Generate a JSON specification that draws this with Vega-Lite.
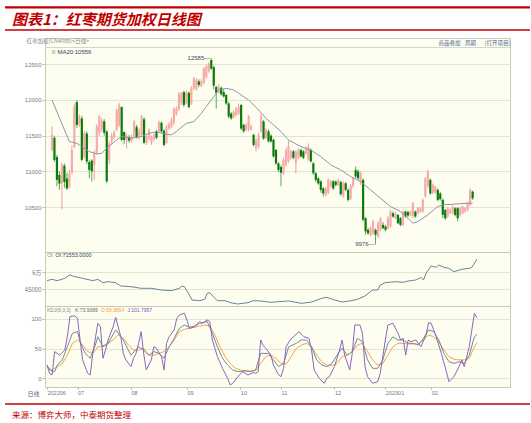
{
"$schema": "https://vega.github.io/schema/vega-lite/v6.json",
"background": "white",
"padding": {"left": 3, "top": 6, "right": 3, "bottom": 0},
"spacing": 0,
"bounds": "flush",
"config": {"font": "Liberation Sans", "view": {"stroke": "#c8c8b8", "fill": "#fefef0"}},
"datasets": {
"candles": [
{"i":0,"o":11300,"h":11627,"l":11280,"c":11510},{"i":1,"o":11470,"h":11500,"l":11130,"c":11160},{"i":2,"o":11200,"h":11230,"l":10790,"c":10880},{"i":3,"o":10950,"h":11000,"l":10740,"c":10830},{"i":4,"o":10830,"h":11120,"l":10470,"c":11100},{"i":5,"o":11080,"h":11110,"l":10770,"c":10850},{"i":6,"o":10900,"h":10980,"l":10740,"c":10760},{"i":7,"o":10780,"h":11020,"l":10760,"c":10970},{"i":8,"o":10980,"h":11360,"l":10960,"c":11300},{"i":9,"o":11340,"h":11950,"l":11320,"c":11900},
{"i":10,"o":11970,"h":12000,"l":11610,"c":11650},{"i":11,"o":11660,"h":11800,"l":11620,"c":11760},{"i":12,"o":11740,"h":11780,"l":11140,"c":11160},{"i":13,"o":11207,"h":11560,"l":11180,"c":11533},{"i":14,"o":11530,"h":11560,"l":11100,"c":11137},{"i":15,"o":11130,"h":11160,"l":10900,"c":11020},{"i":16,"o":11150,"h":11170,"l":10857,"c":11000},{"i":17,"o":11090,"h":11290,"l":10880,"c":11250},{"i":18,"o":11260,"h":11660,"l":11240,"c":11630},{"i":19,"o":11540,"h":11790,"l":11500,"c":11767},
{"i":20,"o":11580,"h":11750,"l":11550,"c":11720},{"i":21,"o":11700,"h":11730,"l":11500,"c":11540},{"i":22,"o":11557,"h":11580,"l":10833,"c":10860},{"i":23,"o":11160,"h":11420,"l":11100,"c":11390},{"i":24,"o":11420,"h":11540,"l":11380,"c":11500},{"i":25,"o":11480,"h":11580,"l":11450,"c":11550},{"i":26,"o":11580,"h":11880,"l":11560,"c":11860},{"i":27,"o":11650,"h":11960,"l":11620,"c":11930},{"i":28,"o":11900,"h":11910,"l":11420,"c":11440},{"i":29,"o":11550,"h":11560,"l":11380,"c":11440},
{"i":30,"o":11430,"h":11530,"l":11320,"c":11490},{"i":31,"o":11480,"h":11510,"l":11400,"c":11430},{"i":32,"o":11430,"h":11520,"l":11400,"c":11480},{"i":33,"o":11490,"h":11720,"l":11470,"c":11700},{"i":34,"o":11620,"h":11650,"l":11460,"c":11480},{"i":35,"o":11480,"h":11600,"l":11450,"c":11560},{"i":36,"o":11510,"h":11790,"l":11490,"c":11767},{"i":37,"o":11730,"h":11760,"l":11380,"c":11400},{"i":38,"o":11400,"h":11500,"l":11370,"c":11470},{"i":39,"o":11460,"h":11600,"l":11440,"c":11580},
{"i":40,"o":11400,"h":11500,"l":11370,"c":11480},{"i":41,"o":11450,"h":11540,"l":11420,"c":11510},{"i":42,"o":11560,"h":11580,"l":11450,"c":11470},{"i":43,"o":11560,"h":11710,"l":11540,"c":11690},{"i":44,"o":11680,"h":11700,"l":11540,"c":11560},{"i":45,"o":11570,"h":11590,"l":11350,"c":11370},{"i":46,"o":11400,"h":11650,"l":11380,"c":11620},{"i":47,"o":11600,"h":11690,"l":11580,"c":11660},{"i":48,"o":11620,"h":11750,"l":11600,"c":11720},{"i":49,"o":11680,"h":11900,"l":11650,"c":11880},
{"i":50,"o":11800,"h":11910,"l":11780,"c":11880},{"i":51,"o":11870,"h":12110,"l":11850,"c":12090},{"i":52,"o":11960,"h":12110,"l":11930,"c":12090},{"i":53,"o":12110,"h":12130,"l":11900,"c":11930},{"i":54,"o":11960,"h":12130,"l":11940,"c":12100},{"i":55,"o":12100,"h":12120,"l":11880,"c":11900},{"i":56,"o":11950,"h":12190,"l":11930,"c":12160},{"i":57,"o":12160,"h":12320,"l":12140,"c":12300},{"i":58,"o":12150,"h":12310,"l":12130,"c":12280},{"i":59,"o":12260,"h":12290,"l":12180,"c":12210},
{"i":60,"o":12200,"h":12290,"l":12180,"c":12260},{"i":61,"o":12240,"h":12460,"l":12220,"c":12440},{"i":62,"o":12320,"h":12490,"l":12300,"c":12470},{"i":63,"o":12400,"h":12530,"l":12380,"c":12510},{"i":64,"o":12560,"h":12585,"l":12420,"c":12440},{"i":65,"o":12460,"h":12480,"l":12150,"c":12200},{"i":66,"o":12180,"h":12200,"l":11880,"c":12100},{"i":67,"o":12110,"h":12220,"l":12090,"c":12180},{"i":68,"o":12170,"h":12190,"l":12060,"c":12080},{"i":69,"o":12110,"h":12150,"l":12030,"c":12050},
{"i":70,"o":12070,"h":12080,"l":11930,"c":11950},{"i":71,"o":11950,"h":11970,"l":11740,"c":11767},{"i":72,"o":11810,"h":11830,"l":11720,"c":11743},{"i":73,"o":11760,"h":11850,"l":11740,"c":11830},{"i":74,"o":11790,"h":11900,"l":11770,"c":11880},{"i":75,"o":11810,"h":11950,"l":11790,"c":11900},{"i":76,"o":11930,"h":11940,"l":11580,"c":11600},{"i":77,"o":11650,"h":11670,"l":11540,"c":11560},{"i":78,"o":11580,"h":11680,"l":11560,"c":11650},{"i":79,"o":11590,"h":11790,"l":11560,"c":11770},
{"i":80,"o":11590,"h":11660,"l":11570,"c":11630},{"i":81,"o":11510,"h":11530,"l":11350,"c":11370},{"i":82,"o":11330,"h":11460,"l":11280,"c":11440},{"i":83,"o":11350,"h":11540,"l":11320,"c":11510},{"i":84,"o":11560,"h":11810,"l":11540,"c":11770},{"i":85,"o":11700,"h":11720,"l":11440,"c":11460},{"i":86,"o":11470,"h":11610,"l":11450,"c":11580},{"i":87,"o":11560,"h":11590,"l":11400,"c":11420},{"i":88,"o":11500,"h":11520,"l":11400,"c":11420},{"i":89,"o":11440,"h":11460,"l":11190,"c":11210},
{"i":90,"o":11300,"h":11310,"l":11090,"c":11110},{"i":91,"o":11110,"h":11130,"l":10990,"c":11020},{"i":92,"o":11060,"h":11090,"l":10790,"c":10980},{"i":93,"o":10970,"h":11190,"l":10950,"c":11160},{"i":94,"o":11090,"h":11330,"l":11070,"c":11300},{"i":95,"o":11140,"h":11430,"l":11120,"c":11350},{"i":96,"o":11190,"h":11300,"l":11160,"c":11280},{"i":97,"o":11280,"h":11300,"l":11170,"c":11190},{"i":98,"o":11120,"h":11300,"l":10970,"c":11280},{"i":99,"o":11190,"h":11330,"l":11170,"c":11300},
{"i":100,"o":11300,"h":11320,"l":11190,"c":11210},{"i":101,"o":11280,"h":11300,"l":11170,"c":11190},{"i":102,"o":11250,"h":11350,"l":11230,"c":11320},{"i":103,"o":11170,"h":11390,"l":11150,"c":11350},{"i":104,"o":11300,"h":11320,"l":11120,"c":11140},{"i":105,"o":11113,"h":11130,"l":10950,"c":10973},{"i":106,"o":10973,"h":10990,"l":10850,"c":10880},{"i":107,"o":10900,"h":10920,"l":10810,"c":10830},{"i":108,"o":10857,"h":10880,"l":10700,"c":10740},{"i":109,"o":10760,"h":10780,"l":10650,"c":10690},
{"i":110,"o":10670,"h":10780,"l":10650,"c":10760},{"i":111,"o":10700,"h":10900,"l":10680,"c":10880},{"i":112,"o":10790,"h":10880,"l":10770,"c":10860},{"i":113,"o":10860,"h":10880,"l":10740,"c":10760},{"i":114,"o":10857,"h":10870,"l":10790,"c":10810},{"i":115,"o":10810,"h":10900,"l":10790,"c":10880},{"i":116,"o":10850,"h":10870,"l":10660,"c":10680},{"i":117,"o":10650,"h":10860,"l":10630,"c":10833},{"i":118,"o":10833,"h":10850,"l":10720,"c":10740},{"i":119,"o":10740,"h":10760,"l":10577,"c":10600},
{"i":120,"o":10620,"h":10820,"l":10600,"c":10800},{"i":121,"o":10790,"h":10920,"l":10770,"c":10903},{"i":122,"o":11020,"h":11067,"l":10900,"c":10927},{"i":123,"o":11000,"h":11030,"l":10880,"c":10903},{"i":124,"o":10833,"h":11000,"l":10810,"c":10973},{"i":125,"o":10880,"h":10900,"l":10300,"c":10320},{"i":126,"o":10343,"h":10360,"l":10110,"c":10157},{"i":127,"o":10180,"h":10210,"l":10110,"c":10133},{"i":128,"o":10110,"h":10230,"l":10090,"c":10203},{"i":129,"o":10133,"h":10320,"l":10110,"c":10297},
{"i":130,"o":10180,"h":10200,"l":9976,"c":10110},{"i":131,"o":10087,"h":10300,"l":10070,"c":10273},{"i":132,"o":10180,"h":10360,"l":10160,"c":10343},{"i":133,"o":10250,"h":10290,"l":10190,"c":10203},{"i":134,"o":10227,"h":10250,"l":10160,"c":10180},{"i":135,"o":10203,"h":10370,"l":10190,"c":10343},{"i":136,"o":10227,"h":10460,"l":10210,"c":10437},{"i":137,"o":10413,"h":10440,"l":10350,"c":10367},{"i":138,"o":10343,"h":10430,"l":10330,"c":10413},{"i":139,"o":10390,"h":10400,"l":10260,"c":10273},
{"i":140,"o":10343,"h":10360,"l":10230,"c":10250},{"i":141,"o":10250,"h":10450,"l":10230,"c":10437},{"i":142,"o":10437,"h":10450,"l":10350,"c":10367},{"i":143,"o":10430,"h":10450,"l":10360,"c":10380},{"i":144,"o":10390,"h":10450,"l":10370,"c":10437},{"i":145,"o":10367,"h":10570,"l":10350,"c":10553},{"i":146,"o":10437,"h":10450,"l":10350,"c":10367},{"i":147,"o":10413,"h":10500,"l":10400,"c":10483},{"i":148,"o":10440,"h":10500,"l":10420,"c":10483},{"i":149,"o":10440,"h":10620,"l":10420,"c":10600},
{"i":150,"o":10650,"h":10920,"l":10630,"c":10900},{"i":151,"o":10790,"h":11020,"l":10770,"c":10997},{"i":152,"o":10880,"h":10900,"l":10670,"c":10690},{"i":153,"o":10700,"h":10830,"l":10680,"c":10810},{"i":154,"o":10700,"h":10800,"l":10680,"c":10787},{"i":155,"o":10740,"h":10760,"l":10580,"c":10600},{"i":156,"o":10690,"h":10710,"l":10590,"c":10610},{"i":157,"o":10600,"h":10620,"l":10343,"c":10390},{"i":158,"o":10460,"h":10470,"l":10320,"c":10343},{"i":159,"o":10367,"h":10500,"l":10350,"c":10483},
{"i":160,"o":10413,"h":10480,"l":10400,"c":10460},{"i":161,"o":10413,"h":10520,"l":10400,"c":10507},{"i":162,"o":10483,"h":10500,"l":10370,"c":10390},{"i":163,"o":10483,"h":10500,"l":10297,"c":10343},{"i":164,"o":10390,"h":10500,"l":10370,"c":10483},{"i":165,"o":10413,"h":10520,"l":10400,"c":10507},{"i":166,"o":10440,"h":10500,"l":10420,"c":10480},{"i":167,"o":10460,"h":10577,"l":10440,"c":10553},{"i":168,"o":10530,"h":10760,"l":10510,"c":10740},{"i":169,"o":10716,"h":10730,"l":10600,"c":10623}
],
"ma": [
{"i":0,"v":12000},{"i":7,"v":11417},{"i":10,"v":11393},{"i":12,"v":11347},{"i":15,"v":11277},{"i":18,"v":11244},{"i":20,"v":11253},{"i":22,"v":11323},{"i":26,"v":11440},{"i":28,"v":11487},{"i":32,"v":11463},{"i":36,"v":11487},{"i":39,"v":11533},{"i":42,"v":11557},{"i":44,"v":11533},{"i":48,"v":11510},{"i":50,"v":11557},{"i":54,"v":11673},{"i":57,"v":11697},{"i":60,"v":11813},{"i":62,"v":11907},{"i":65,"v":12047},{"i":67,"v":12140},{"i":70,"v":12163},{"i":73,"v":12140},{"i":75,"v":12093},{"i":79,"v":12000},{"i":83,"v":11860},{"i":86,"v":11743},{"i":89,"v":11650},{"i":92,"v":11557},{"i":95,"v":11440},{"i":100,"v":11347},{"i":104,"v":11300},{"i":108,"v":11207},{"i":112,"v":11090},{"i":116,"v":11020},{"i":120,"v":10927},{"i":124,"v":10857},{"i":128,"v":10740},{"i":132,"v":10623},{"i":136,"v":10507},{"i":140,"v":10437},{"i":143,"v":10343},{"i":145,"v":10273},{"i":147,"v":10297},{"i":151,"v":10390},{"i":155,"v":10507},{"i":157,"v":10530},{"i":163,"v":10544},{"i":169,"v":10556}
],
"ann": [{"i":64,"v":12585,"t":"12585—"},{"i":130,"v":9976,"t":"9976—"}],
"oi": [
{"i":0,"v":52620},{"i":2,"v":53800},{"i":4,"v":52620},{"i":7,"v":54680},{"i":9,"v":57620},{"i":11,"v":56150},{"i":14,"v":54680},{"i":18,"v":52620},{"i":20,"v":53800},{"i":22,"v":50850},{"i":24,"v":51740},{"i":27,"v":50850},{"i":29,"v":47920},{"i":33,"v":47330},{"i":37,"v":45860},{"i":41,"v":45860},{"i":45,"v":44390},{"i":49,"v":43800},{"i":52,"v":45860},{"i":53,"v":47900},{"i":54,"v":47330},{"i":56,"v":40030},{"i":57,"v":35560},{"i":60,"v":34960},{"i":62,"v":36150},{"i":63,"v":41440},{"i":64,"v":42030},{"i":66,"v":37040},{"i":67,"v":34960},{"i":70,"v":34960},{"i":72,"v":33210},{"i":75,"v":32030},{"i":79,"v":33210},{"i":81,"v":34960},{"i":84,"v":34680},{"i":88,"v":33500},{"i":91,"v":34090},{"i":95,"v":34680},{"i":100,"v":32620},{"i":104,"v":33800},{"i":108,"v":37040},{"i":110,"v":37910},{"i":113,"v":35560},{"i":116,"v":33800},{"i":119,"v":34680},{"i":122,"v":36150},{"i":125,"v":39090},{"i":128,"v":44390},{"i":130,"v":44390},{"i":131,"v":48800},{"i":133,"v":50850},{"i":137,"v":51740},{"i":140,"v":51150},{"i":142,"v":52330},{"i":145,"v":53210},{"i":147,"v":55560},{"i":148,"v":53210},{"i":149,"v":59090},{"i":151,"v":65560},{"i":153,"v":64390},{"i":154,"v":66440},{"i":156,"v":64390},{"i":158,"v":63500},{"i":160,"v":60560},{"i":163,"v":62620},{"i":166,"v":63500},{"i":167,"v":64390},{"i":169,"v":71553}
],
"k": [
{"i":0,"v":22},{"i":1,"v":14},{"i":3,"v":11},{"i":4,"v":22},{"i":6,"v":31},{"i":8,"v":53},{"i":10,"v":76},{"i":12,"v":78.7},{"i":13,"v":61.8},{"i":15,"v":42},{"i":17,"v":33.7},{"i":19,"v":56},{"i":20,"v":70},{"i":22,"v":53},{"i":24,"v":59},{"i":27,"v":81.5},{"i":30,"v":64.6},{"i":33,"v":39},{"i":36,"v":53},{"i":38,"v":47.7},{"i":40,"v":39},{"i":42,"v":45},{"i":44,"v":42},{"i":46,"v":33.7},{"i":48,"v":53},{"i":50,"v":67.4},{"i":52,"v":84},{"i":54,"v":89.9},{"i":56,"v":86},{"i":58,"v":88},{"i":60,"v":92.7},{"i":63,"v":95.5},{"i":65,"v":75.8},{"i":67,"v":53},{"i":69,"v":33.7},{"i":71,"v":22.4},{"i":73,"v":14},{"i":75,"v":11.2},{"i":78,"v":12.3},{"i":80,"v":11.2},{"i":82,"v":14},{"i":84,"v":42},{"i":87,"v":42},{"i":89,"v":31},{"i":91,"v":19.7},{"i":93,"v":25},{"i":95,"v":53},{"i":98,"v":59},{"i":100,"v":64.6},{"i":102,"v":64.6},{"i":104,"v":53},{"i":106,"v":31},{"i":108,"v":22.4},{"i":110,"v":19.7},{"i":112,"v":25},{"i":114,"v":39},{"i":116,"v":50.6},{"i":118,"v":39},{"i":120,"v":45},{"i":122,"v":67.4},{"i":124,"v":61.8},{"i":126,"v":31},{"i":128,"v":16.8},{"i":130,"v":16.8},{"i":132,"v":31},{"i":134,"v":59},{"i":136,"v":70},{"i":138,"v":64.6},{"i":140,"v":64.6},{"i":142,"v":59},{"i":144,"v":59},{"i":146,"v":56},{"i":148,"v":67.4},{"i":150,"v":81.5},{"i":152,"v":78.7},{"i":154,"v":64.6},{"i":156,"v":42},{"i":158,"v":28},{"i":160,"v":25},{"i":162,"v":28},{"i":164,"v":25},{"i":166,"v":39},{"i":168,"v":70},{"i":169,"v":73.9}
],
"d": [
{"i":0,"v":19.7},{"i":2,"v":14},{"i":4,"v":19.7},{"i":6,"v":25},{"i":8,"v":39},{"i":10,"v":59},{"i":12,"v":64.6},{"i":14,"v":56},{"i":16,"v":45},{"i":18,"v":42},{"i":20,"v":53},{"i":22,"v":54.5},{"i":24,"v":59},{"i":26,"v":64.6},{"i":28,"v":73},{"i":30,"v":67.4},{"i":32,"v":56},{"i":34,"v":47.7},{"i":36,"v":47.7},{"i":38,"v":50.6},{"i":40,"v":39},{"i":42,"v":39},{"i":44,"v":42},{"i":46,"v":45},{"i":48,"v":53},{"i":50,"v":64.6},{"i":52,"v":78.7},{"i":54,"v":82.6},{"i":56,"v":84.3},{"i":58,"v":86},{"i":60,"v":88},{"i":62,"v":89.9},{"i":64,"v":88},{"i":66,"v":73},{"i":68,"v":53},{"i":70,"v":36.5},{"i":72,"v":25},{"i":74,"v":16.8},{"i":76,"v":14},{"i":78,"v":12.8},{"i":80,"v":12.3},{"i":82,"v":12.8},{"i":84,"v":25},{"i":86,"v":36.5},{"i":88,"v":39},{"i":90,"v":33.7},{"i":92,"v":25},{"i":94,"v":24},{"i":96,"v":36.5},{"i":98,"v":50.6},{"i":100,"v":56},{"i":102,"v":59},{"i":104,"v":53},{"i":106,"v":39},{"i":108,"v":28},{"i":110,"v":22.4},{"i":112,"v":20.8},{"i":114,"v":25},{"i":116,"v":36.5},{"i":118,"v":39},{"i":120,"v":45},{"i":122,"v":56},{"i":124,"v":59},{"i":126,"v":45},{"i":128,"v":31},{"i":130,"v":22.4},{"i":132,"v":25},{"i":134,"v":39},{"i":136,"v":53},{"i":138,"v":59},{"i":140,"v":59},{"i":142,"v":57.8},{"i":144,"v":57.8},{"i":146,"v":57.8},{"i":148,"v":64.6},{"i":150,"v":73},{"i":152,"v":70},{"i":154,"v":61.8},{"i":156,"v":47.7},{"i":158,"v":36.5},{"i":160,"v":32},{"i":162,"v":31},{"i":164,"v":31},{"i":166,"v":33.7},{"i":168,"v":53},{"i":169,"v":60}
],
"j": [
{"i":0,"v":22.4},{"i":1,"v":8.4},{"i":2,"v":5.6},{"i":3,"v":45},{"i":5,"v":39},{"i":7,"v":47.7},{"i":8,"v":70},{"i":9,"v":104},{"i":10,"v":105},{"i":11,"v":105},{"i":12,"v":101},{"i":13,"v":64.6},{"i":14,"v":31},{"i":16,"v":8.4},{"i":17,"v":5.6},{"i":18,"v":42},{"i":20,"v":92.7},{"i":21,"v":87},{"i":22,"v":33.7},{"i":23,"v":47.7},{"i":24,"v":64.6},{"i":26,"v":87},{"i":27,"v":102.8},{"i":29,"v":70},{"i":30,"v":42},{"i":31,"v":31},{"i":33,"v":19.7},{"i":34,"v":33.7},{"i":35,"v":42},{"i":36,"v":59},{"i":37,"v":78.7},{"i":38,"v":42},{"i":39,"v":14},{"i":41,"v":31},{"i":42,"v":53.4},{"i":43,"v":50.6},{"i":45,"v":36.5},{"i":46,"v":14},{"i":47,"v":59},{"i":48,"v":70},{"i":50,"v":81.5},{"i":51,"v":101},{"i":52,"v":106.7},{"i":54,"v":109.6},{"i":55,"v":98.3},{"i":56,"v":84},{"i":58,"v":87},{"i":60,"v":95.5},{"i":61,"v":92.7},{"i":63,"v":98.3},{"i":64,"v":95.5},{"i":65,"v":64.6},{"i":67,"v":36.5},{"i":69,"v":16.8},{"i":71,"v":0},{"i":72,"v":-11.3},{"i":73,"v":-8.5},{"i":75,"v":2.8},{"i":77,"v":11.2},{"i":79,"v":5.6},{"i":81,"v":9.5},{"i":82,"v":8.4},{"i":83,"v":11.2},{"i":84,"v":64.6},{"i":85,"v":55},{"i":86,"v":50.6},{"i":88,"v":39.3},{"i":89,"v":22.4},{"i":91,"v":6},{"i":92,"v":2.8},{"i":93,"v":16.8},{"i":94,"v":53.4},{"i":96,"v":67.4},{"i":97,"v":70},{"i":99,"v":78.7},{"i":101,"v":70},{"i":103,"v":67.4},{"i":104,"v":47.7},{"i":105,"v":14},{"i":107,"v":0},{"i":109,"v":-8.5},{"i":110,"v":0},{"i":111,"v":2.8},{"i":113,"v":19.7},{"i":115,"v":47.7},{"i":116,"v":64.6},{"i":117,"v":39},{"i":119,"v":14},{"i":120,"v":42},{"i":121,"v":89.9},{"i":123,"v":89.9},{"i":124,"v":75.8},{"i":125,"v":19.7},{"i":126,"v":2.8},{"i":128,"v":-8.5},{"i":130,"v":-5.7},{"i":131,"v":8.4},{"i":133,"v":64.6},{"i":134,"v":89.9},{"i":136,"v":92.7},{"i":138,"v":75.8},{"i":139,"v":64.6},{"i":140,"v":67.4},{"i":141,"v":39},{"i":142,"v":64.6},{"i":143,"v":61.8},{"i":145,"v":64.6},{"i":146,"v":59},{"i":147,"v":53.4},{"i":149,"v":73},{"i":150,"v":93.8},{"i":151,"v":92.7},{"i":153,"v":70},{"i":155,"v":42},{"i":157,"v":11.2},{"i":158,"v":-5.7},{"i":160,"v":2.8},{"i":162,"v":19.7},{"i":163,"v":31},{"i":164,"v":19.7},{"i":166,"v":53.4},{"i":168,"v":109.6},{"i":169,"v":101.8}
]
},
"vconcat": [
{
"width": 465, "height": 32,
"view": {"fill": null, "stroke": null},
"data": {"values": [{}]},
"layer": [
{"mark": {"type": "rule", "color": "#c00000", "strokeWidth": 2.2},
 "encoding": {"x": {"datum": -0.086, "type": "quantitative", "scale": {"domain": [0, 1]}, "axis": null}, "x2": {"datum": 1.043}, "y": {"datum": 0.959, "type": "quantitative", "scale": {"domain": [0, 1]}, "axis": null}}},
{"mark": {"type": "rule", "color": "#c00000", "strokeWidth": 1.3},
 "encoding": {"x": {"datum": -0.086, "type": "quantitative"}, "x2": {"datum": 1.043}, "y": {"datum": 0.25, "type": "quantitative"}}},
{"mark": {"type": "text", "text": "图表1：红枣期货加权日线图", "align": "left", "baseline": "middle", "font": "Noto Sans CJK SC", "fontSize": 15, "fontWeight": "bold", "fontStyle": "italic", "color": "#c00000"},
 "encoding": {"x": {"datum": -0.071, "type": "quantitative"}, "y": {"datum": 0.578, "type": "quantitative"}}}
]
},
{
"width": 465, "height": 214,
"layer": [
{"data": {"name": "candles"}, "mark": {"type": "rule", "strokeWidth": 1},
 "encoding": {
  "x": {"field": "i", "type": "quantitative", "scale": {"domain": [-0.786, 182], "nice": false, "zero": false}, "axis": null},
  "y": {"field": "l", "type": "quantitative", "scale": {"domain": [9870, 12868], "nice": false, "zero": false},
        "axis": {"values": [10500, 11000, 11500, 12000, 12500], "format": "d", "title": null, "labelFontSize": 6, "labelColor": "#7a7a7a", "grid": true, "gridColor": "#e4e4d4", "domain": false, "tickColor": "#c0c0b0", "tickSize": 3, "labelPadding": 1, "minExtent": 40, "maxExtent": 40}},
  "y2": {"field": "h"},
  "color": {"condition": {"test": "datum.c >= datum.o", "value": "#f29a9a"}, "value": "#5aa85a"}}},
{"data": {"name": "candles"}, "mark": {"type": "bar", "size": 2.2},
 "encoding": {
  "x": {"field": "i", "type": "quantitative"},
  "y": {"field": "o", "type": "quantitative"},
  "y2": {"field": "c"},
  "color": {"condition": {"test": "datum.c >= datum.o", "value": "#f6aaaa"}, "value": "#0b7a0b"}}},
{"data": {"name": "ma"}, "mark": {"type": "line", "color": "#8c96aa", "strokeWidth": 1},
 "encoding": {"x": {"field": "i", "type": "quantitative"}, "y": {"field": "v", "type": "quantitative"}}},
{"data": {"name": "ann"}, "mark": {"type": "text", "align": "right", "baseline": "middle", "fontSize": 6, "color": "#3a4a6a", "dx": -1},
 "encoding": {"x": {"field": "i", "type": "quantitative"}, "y": {"field": "v", "type": "quantitative"}, "text": {"field": "t"}}},
{"data": {"values": [{}]}, "mark": {"type": "rule", "color": "#d6d6c6", "strokeWidth": 1},
 "encoding": {"y": {"datum": 12735, "type": "quantitative"}}},
{"data": {"values": [{}]}, "mark": {"type": "text", "text": "K", "align": "left", "baseline": "middle", "fontSize": 6, "color": "#888888"},
 "encoding": {"x": {"datum": 0, "type": "quantitative"}, "y": {"datum": 12672, "type": "quantitative"}}},
{"data": {"values": [{}]}, "mark": {"type": "text", "text": "MA20:10556", "align": "left", "baseline": "middle", "fontSize": 6, "color": "#2c3e6c"},
 "encoding": {"x": {"datum": 2.2, "type": "quantitative"}, "y": {"datum": 12672, "type": "quantitative"}}},
{"data": {"values": [{}]}, "mark": {"type": "text", "text": "红枣加权(CN4088)<日线>", "align": "left", "baseline": "middle", "fontSize": 5.5, "font": "Noto Sans CJK SC", "color": "#8a8a8a"},
 "encoding": {"x": {"datum": -10.2, "type": "quantitative"}, "y": {"datum": 12820, "type": "quantitative"}}},
{"data": {"values": [{}]}, "mark": {"type": "text", "text": "商品叠加", "align": "left", "baseline": "middle", "fontSize": 5.5, "font": "Noto Sans CJK SC", "color": "#4a6a9a"},
 "encoding": {"x": {"datum": 155.3, "type": "quantitative"}, "y": {"datum": 12798, "type": "quantitative"}}},
{"data": {"values": [{}]}, "mark": {"type": "text", "text": "周期", "align": "left", "baseline": "middle", "fontSize": 5.5, "font": "Noto Sans CJK SC", "color": "#4a6a9a"},
 "encoding": {"x": {"datum": 165.9, "type": "quantitative"}, "y": {"datum": 12798, "type": "quantitative"}}},
{"data": {"values": [{}]}, "mark": {"type": "text", "text": "[打开项目]", "align": "left", "baseline": "middle", "fontSize": 5.5, "font": "Noto Sans CJK SC", "color": "#4a6a9a"},
 "encoding": {"x": {"datum": 173.8, "type": "quantitative"}, "y": {"datum": 12798, "type": "quantitative"}}}
]
},
{
"width": 465, "height": 54,
"layer": [
{"data": {"name": "oi"}, "mark": {"type": "line", "color": "#6a82a0", "strokeWidth": 1},
 "encoding": {
  "x": {"field": "i", "type": "quantitative", "scale": {"domain": [-0.786, 182], "nice": false, "zero": false}, "axis": null},
  "y": {"field": "v", "type": "quantitative", "scale": {"domain": [30264, 77913], "nice": false, "zero": false},
        "axis": {"values": [45000, 60000], "labelExpr": "datum.value == 60000 ? '6万' : '45000'", "title": null, "labelFont": "Noto Sans CJK SC", "labelFontSize": 6, "labelColor": "#7a7a7a", "grid": true, "gridColor": "#e4e4d4", "domain": false, "tickColor": "#c0c0b0", "tickSize": 3, "labelPadding": 1, "minExtent": 40, "maxExtent": 40}}}},
{"data": {"values": [{}]}, "mark": {"type": "text", "text": "OI", "align": "left", "baseline": "middle", "fontSize": 5.5, "color": "#888888"},
 "encoding": {"x": {"datum": 0, "type": "quantitative"}, "y": {"datum": 75265, "type": "quantitative"}}},
{"data": {"values": [{}]}, "mark": {"type": "text", "text": "OI:71553.0000", "align": "left", "baseline": "middle", "fontSize": 5.5, "color": "#2c3e6c"},
 "encoding": {"x": {"datum": 3.2, "type": "quantitative"}, "y": {"datum": 75265, "type": "quantitative"}}}
]
},
{
"width": 465, "height": 81,
"layer": [
{"data": {"name": "d"}, "mark": {"type": "line", "color": "#f5a347", "strokeWidth": 1},
 "encoding": {
  "x": {"field": "i", "type": "quantitative", "scale": {"domain": [-0.786, 182], "nice": false, "zero": false},
        "axis": {"values": [0, 12, 33, 55, 76, 92, 113, 133, 151], "labelExpr": "datum.value == 0 ? '202206' : datum.value == 12 ? '07' : datum.value == 33 ? '08' : datum.value == 55 ? '09' : datum.value == 76 ? '10' : datum.value == 92 ? '11' : datum.value == 113 ? '12' : datum.value == 133 ? '202301' : '02'",
                 "title": "日线", "titleX": -18, "titleY": 6, "titleAlign": "left", "titleBaseline": "middle", "titleFont": "Noto Sans CJK SC", "titleFontSize": 6, "titleFontWeight": "normal", "titleColor": "#666666",
                 "labelFontSize": 5.5, "labelColor": "#777777", "labelAlign": "left", "labelPadding": 1, "labelFlush": false, "labelOverlap": false, "tickSize": 2, "tickColor": "#b0b0a0", "domain": false, "grid": false}},
  "y": {"field": "v", "type": "quantitative", "scale": {"domain": [-14.7, 121.9], "nice": false, "zero": false},
        "axis": {"values": [0, 20, 50, 80, 100], "title": null, "labelFontSize": 6, "labelColor": "#7a7a7a", "grid": true, "gridColor": "#e4e4d4", "domain": false, "tickColor": "#c0c0b0", "tickSize": 3, "labelPadding": 1, "minExtent": 40, "maxExtent": 40}}}},
{"data": {"name": "k"}, "mark": {"type": "line", "color": "#6f8b98", "strokeWidth": 1},
 "encoding": {"x": {"field": "i", "type": "quantitative"}, "y": {"field": "v", "type": "quantitative"}}},
{"data": {"name": "j"}, "mark": {"type": "line", "color": "#8a65c0", "strokeWidth": 1},
 "encoding": {"x": {"field": "i", "type": "quantitative"}, "y": {"field": "v", "type": "quantitative"}}},
{"data": {"values": [{}]}, "mark": {"type": "text", "text": "KDJ(9,3,3)", "align": "left", "baseline": "middle", "fontSize": 5, "color": "#888888"},
 "encoding": {"x": {"datum": 0, "type": "quantitative"}, "y": {"datum": 115.2, "type": "quantitative"}}},
{"data": {"values": [{}]}, "mark": {"type": "text", "text": "K:73.9089", "align": "left", "baseline": "middle", "fontSize": 5, "color": "#4f6f80"},
 "encoding": {"x": {"datum": 11, "type": "quantitative"}, "y": {"datum": 115.2, "type": "quantitative"}}},
{"data": {"values": [{}]}, "mark": {"type": "text", "text": "D:59.9654", "align": "left", "baseline": "middle", "fontSize": 5, "color": "#f0a040"},
 "encoding": {"x": {"datum": 21.3, "type": "quantitative"}, "y": {"datum": 115.2, "type": "quantitative"}}},
{"data": {"values": [{}]}, "mark": {"type": "text", "text": "J:101.7957", "align": "left", "baseline": "middle", "fontSize": 5, "color": "#7a55b0"},
 "encoding": {"x": {"datum": 31.6, "type": "quantitative"}, "y": {"datum": 115.2, "type": "quantitative"}}}
]
},
{
"width": 465, "height": 36,
"view": {"fill": null, "stroke": null},
"data": {"values": [{}]},
"layer": [
{"mark": {"type": "rule", "color": "#c00000", "strokeWidth": 1.3},
 "encoding": {"x": {"datum": -0.086, "type": "quantitative", "scale": {"domain": [0, 1]}, "axis": null}, "x2": {"datum": 1.043}, "y": {"datum": 0.528, "type": "quantitative", "scale": {"domain": [0, 1]}, "axis": null}}},
{"mark": {"type": "text", "text": "来源：博弈大师，中泰期货整理", "align": "left", "baseline": "middle", "font": "Noto Sans CJK SC", "fontSize": 8.5, "color": "#c00000"},
 "encoding": {"x": {"datum": -0.071, "type": "quantitative"}, "y": {"datum": 0.222, "type": "quantitative"}}}
]
}
]
}
